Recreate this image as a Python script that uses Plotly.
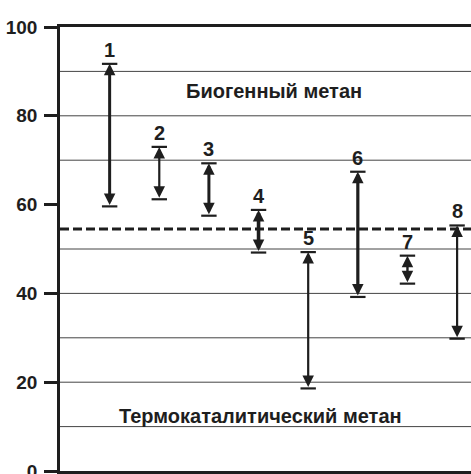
import plotly.graph_objects as go

# ranges of the share of biogenic methane, %
samples = [1, 2, 3, 4, 5, 6, 7, 8]
upper = [91.7, 73.0, 69.3, 58.8, 49.3, 67.4, 48.5, 55.3]
lower = [59.6, 61.2, 57.5, 49.2, 18.6, 39.2, 42.2, 29.8]
bar_widths = [3, 2.2, 3, 3.6, 2.2, 3.2, 2.4, 2.2]

grid_levels = [10, 20, 30, 40, 50, 70, 80, 90]
boundary = 54.5
y_ticks = [0, 20, 40, 60, 80, 100]

label_top = 'Биогенный метан'
label_bottom = 'Термокаталитический метан'

ink = '#1e1e1e'
font = dict(family='Liberation Sans, Arial, sans-serif', size=19, color=ink)
big_font = dict(font, size=20)

fig = go.Figure()

# end caps
fig.add_trace(go.Scatter(
    x=samples + samples,
    y=upper + lower,
    mode='markers',
    marker=dict(symbol='line-ew', size=11, line=dict(width=2.2, color=ink)),
    hoverinfo='skip',
    showlegend=False
))

shapes = []
for g in grid_levels:
    shapes.append(dict(type='line', xref='paper', x0=0, x1=1, yref='y', y0=g, y1=g,
                       line=dict(color='#444', width=1), layer='below'))
shapes.append(dict(type='line', xref='paper', x0=0, x1=1, yref='y', y0=boundary, y1=boundary,
                   line=dict(color=ink, width=3, dash='9px,4px')))

annotations = []
for s, hi, lo, w in zip(samples, upper, lower, bar_widths):
    annotations.append(dict(
        x=s, y=hi, ax=s, ay=lo, xref='x', yref='y', axref='x', ayref='y',
        text='', showarrow=True, arrowside='end+start',
        arrowhead=2, startarrowhead=2,
        arrowsize=2.3 / w, startarrowsize=2.3 / w,
        arrowwidth=w, arrowcolor=ink, standoff=0, startstandoff=0
    ))
    annotations.append(dict(
        x=s, y=hi, xref='x', yref='y', text='<b>%d</b>' % s,
        showarrow=False, yanchor='bottom', yshift=1, font=big_font
    ))

annotations.append(dict(x=4.31, y=85.5, xref='x', yref='y', text='<b>%s</b>' % label_top,
                        showarrow=False, font=big_font))
annotations.append(dict(x=4.03, y=12.4, xref='x', yref='y', text='<b>%s</b>' % label_bottom,
                        showarrow=False, font=big_font))

fig.update_layout(
    width=471, height=474,
    margin=dict(l=60, r=0, t=27, b=3),
    paper_bgcolor='white', plot_bgcolor='white',
    shapes=shapes, annotations=annotations,
    showlegend=False,
    font=font
)
fig.update_xaxes(range=[0, 8.28], showgrid=False, zeroline=False,
                 showticklabels=False, ticks='', automargin=False,
                 showline=True, mirror=True, linewidth=3, linecolor=ink)
fig.update_yaxes(range=[0, 100], tickvals=y_ticks,
                 ticktext=['<b>%d</b>' % v for v in y_ticks],
                 showgrid=False, zeroline=False, automargin=False,
                 ticks='outside', ticklen=13, tickwidth=3, tickcolor=ink,
                 showline=True, linewidth=2.5, linecolor=ink,
                 ticklabelstandoff=3, ticklabeloverflow='allow')

# page body has a default margin, drop it so the figure fills the window
fig.write_html("out.html", config={'displayModeBar': False},
               post_script="document.body.style.margin='0';document.body.style.overflow='hidden';")
